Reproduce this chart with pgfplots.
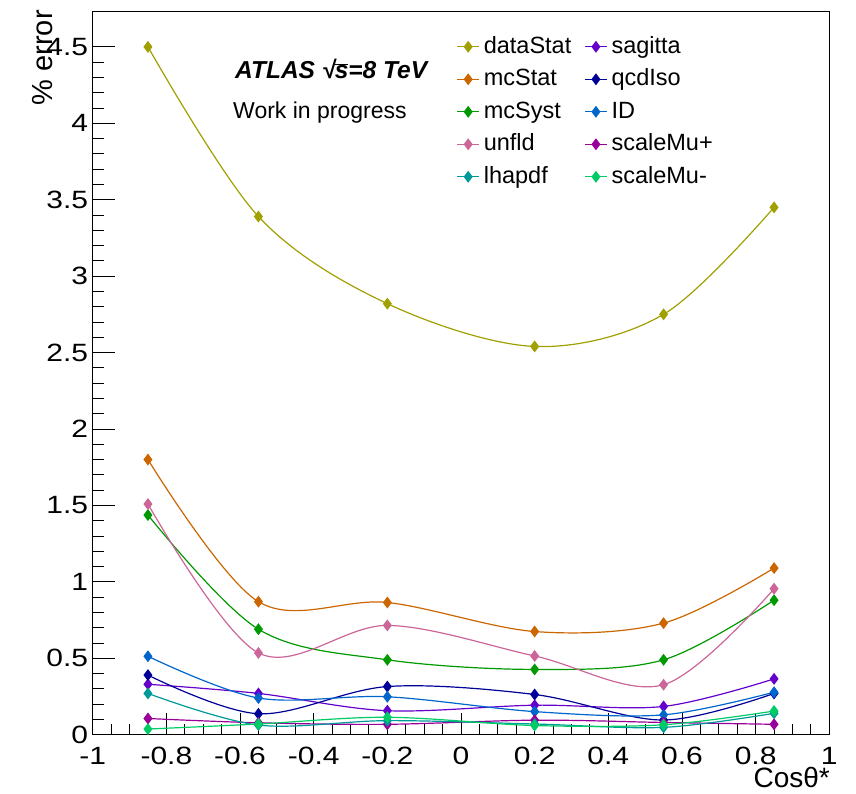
\documentclass[border=0pt]{standalone}
\usepackage{fontspec}
\setmainfont{Liberation Sans}
\usepackage{pgfplots}
\pgfplotsset{compat=1.18}
\definecolor{cData}{RGB}{160,160,0}
\definecolor{cMcStat}{RGB}{204,102,0}
\definecolor{cMcSyst}{RGB}{0,153,0}
\definecolor{cUnfld}{RGB}{204,102,153}
\definecolor{cLha}{RGB}{0,153,153}
\definecolor{cSag}{RGB}{102,0,204}
\definecolor{cQcd}{RGB}{0,0,153}
\definecolor{cID}{RGB}{0,102,204}
\definecolor{cMuP}{RGB}{153,0,153}
\definecolor{cMuM}{RGB}{0,204,102}
\pgfplotsset{
  ser/.style={color=#1, line width=1.2pt, smooth, tension=0.55, mark=diamond*, mark size=5pt, mark options={solid, fill=#1, draw=#1}}
}
\begin{document}
\begin{tikzpicture}
\path[use as bounding box] (-92.7pt,-59.3pt) rectangle (763.3pt,734.7pt);
\begin{axis}[
  at={(0pt,0pt)}, anchor=south west,
  scale only axis, width=736.6pt, height=723pt,
  xmin=-1, xmax=1, ymin=0, ymax=4.73,
  axis line style={line width=1pt},
  xtick pos=bottom, ytick pos=left,
  tick align=inside,
  major tick length=22pt, minor tick length=11pt,
  tick style={black, line width=0.9pt},
  minor tick style={black, line width=0.9pt},
  xtick={-1,-0.8,-0.6,-0.4,-0.2,0,0.2,0.4,0.6,0.8,1},
  ytick={0,0.5,1,1.5,2,2.5,3,3.5,4,4.5},
  minor x tick num=3, minor y tick num=4,
  /pgf/number format/assume math mode=true,
  ticklabel style={font=\fontsize{25}{30}\selectfont},
  xticklabel style={inner sep=0pt, yshift=-12pt, xscale=1.2},
  yticklabel style={inner sep=0pt, xshift=-4.4pt, xscale=1.2},
  legend columns=2,
  legend cell align=left,
  legend style={at={(0.494,0.966)}, anchor=north west, draw=none, fill=none,
    inner sep=0pt, outer sep=0pt, font=\fontsize{23.5}{28}\selectfont,
    row sep=11.5pt,
    nodes={inner sep=0pt, text height=17pt, text depth=4pt},
    /tikz/every odd column/.append style={column sep=4pt},
    /tikz/every even column/.append style={column sep=13pt}},
  legend image code/.code={\draw[mark repeat=2,mark phase=2,#1] plot coordinates {(0pt,0pt) (11pt,0pt) (22pt,0pt)};},
]
\addplot[ser=cData] coordinates {(-0.85,4.50) (-0.55,3.39) (-0.2,2.82) (0.2,2.54) (0.55,2.75) (0.85,3.45)};
\addlegendentry{dataStat}
\addplot[ser=cSag] coordinates {(-0.85,0.33) (-0.55,0.27) (-0.2,0.157) (0.2,0.193) (0.55,0.185) (0.85,0.365)};
\addlegendentry{sagitta}
\addplot[ser=cMcStat] coordinates {(-0.85,1.80) (-0.55,0.87) (-0.2,0.865) (0.2,0.675) (0.55,0.73) (0.85,1.09)};
\addlegendentry{mcStat}
\addplot[ser=cQcd] coordinates {(-0.85,0.39) (-0.55,0.137) (-0.2,0.315) (0.2,0.263) (0.55,0.096) (0.85,0.27)};
\addlegendentry{qcdIso}
\addplot[ser=cMcSyst] coordinates {(-0.85,1.437) (-0.55,0.69) (-0.2,0.49) (0.2,0.427) (0.55,0.49) (0.85,0.88)};
\addlegendentry{mcSyst}
\addplot[ser=cID] coordinates {(-0.85,0.513) (-0.55,0.24) (-0.2,0.248) (0.2,0.151) (0.55,0.13) (0.85,0.278)};
\addlegendentry{ID}
\addplot[ser=cUnfld] coordinates {(-0.85,1.509) (-0.55,0.535) (-0.2,0.715) (0.2,0.515) (0.55,0.327) (0.85,0.955)};
\addlegendentry{unfld}
\addplot[ser=cMuP] coordinates {(-0.85,0.106) (-0.55,0.078) (-0.2,0.068) (0.2,0.095) (0.55,0.08) (0.85,0.068)};
\addlegendentry{scaleMu+}
\addplot[ser=cLha] coordinates {(-0.85,0.27) (-0.55,0.063) (-0.2,0.092) (0.2,0.07) (0.55,0.048) (0.85,0.14)};
\addlegendentry{lhapdf}
\addplot[ser=cMuM] coordinates {(-0.85,0.037) (-0.55,0.07) (-0.2,0.114) (0.2,0.06) (0.55,0.065) (0.85,0.155)};
\addlegendentry{scaleMu-}
\end{axis}
\node[anchor=base west, inner sep=0pt, font=\fontsize{24.5}{28}\selectfont\bfseries\itshape] at (142.3pt,656.4pt) {ATLAS √\kern-0.5pt$\overline{\hbox{s}}$=8 TeV};
\node[anchor=base west, inner sep=0pt, font=\fontsize{23}{28}\selectfont] at (140.3pt,616.4pt) {Work in progress};
\node[rotate=90, anchor=east, inner sep=0pt, font=\fontsize{29}{34}\selectfont] at (-49.7pt,724.7pt) {\% error};
\node[anchor=base east, inner sep=0pt, font=\fontsize{28}{32}\selectfont] at (737.3pt,-53pt) {Cosθ*};
\end{tikzpicture}
\end{document}
